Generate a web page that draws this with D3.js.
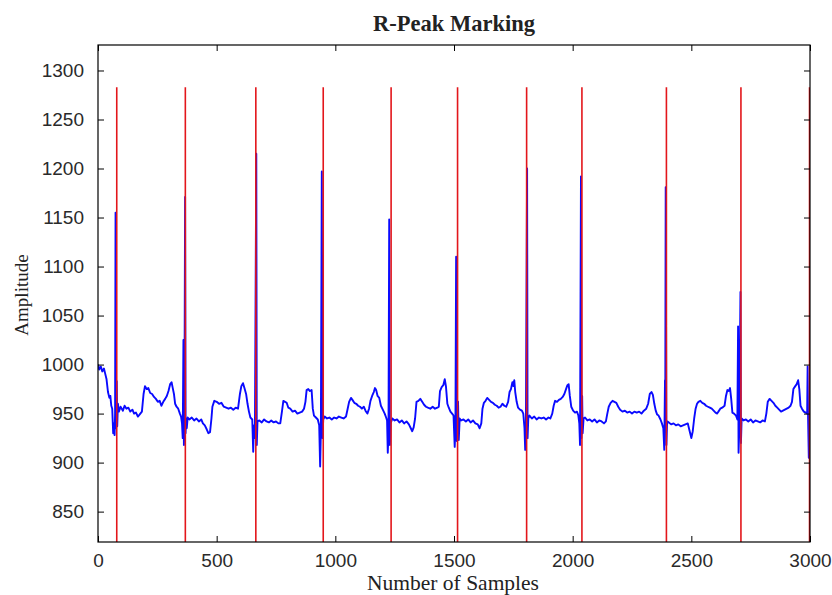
<!DOCTYPE html>
<html>
<head>
<meta charset="utf-8">
<script src="https://cdn.jsdelivr.net/npm/d3@7"></script>
<style>
  body { margin: 0; background: #fff; }
  .tick text { font-family: "Liberation Sans", Arial, sans-serif; font-size: 19px; fill: #2a2a2a; }
  .tick line { stroke: #000; }
</style>
</head>
<body>
<div id="chart"></div>
<script>
// tick labels
var xTicks = [0, 500, 1000, 1500, 2000, 2500, 3000];
var yTicks = [850, 900, 950, 1000, 1050, 1100, 1150, 1200, 1250, 1300];

// detected R-peak positions (red markers) and marker height
var peakIdx = [79, 368, 665, 949, 1235, 1515, 1806, 2039, 2395, 2709, 2998];
var markerTop = 1283;

// ECG trace: [sample, amplitude]
var ecgPoints = [
  [0,1000],[5,995],[12,998],[18,993],[25,996],[30,991],[36,985],[42,972],[48,966],[52,968],
  [56,958],[60,955],[64,930],[67,940],[70,928],[72,950],[74,1155],[76,935],[79,983],[81,937],
  [84,960],[88,952],[95,957],[105,953],[112,958],[120,955],[128,956],[136,952],[145,954],[152,950],
  [160,951],[168,947],[175,949],[185,952],[192,970],[198,978],[205,975],[212,976],[220,971],[228,970],
  [236,967],[244,965],[252,962],[260,963],[267,958],[275,962],[283,965],[290,968],[297,973],[304,980],
  [310,982],[315,976],[320,970],[325,960],[331,957],[338,955],[345,950],[350,947],[354,940],[357,925],
  [360,1025],[362,918],[364,940],[367,1171],[369,930],[371,945],[374,935],
  [378,946],[385,944],[395,946],[405,943],[415,945],[425,942],[435,944],[442,940],[450,938],[458,934],
  [465,930],[472,931],[478,945],[482,957],[490,963],[500,962],[510,960],[520,961],[530,957],[540,956],
  [550,955],[560,956],[570,954],[580,956],[590,955],[598,970],[604,978],[611,981],[617,976],[624,970],
  [630,960],[636,952],[642,946],[650,944],[654,911],[657,938],[661,925],[667,1215],[669,918],[672,942],
  [680,943],[690,941],[700,944],[710,942],[720,941],[730,943],[740,941],[750,942],[760,940],[768,940],
  [775,952],[781,963],[788,962],[795,961],[802,956],[810,955],[820,952],[830,953],[840,950],[850,951],
  [860,952],[868,955],[874,962],[879,974],[886,975],[893,973],[900,974],[905,955],[910,948],[918,946],
  [926,944],[932,938],[936,896],[939,930],[943,1197],[946,925],[949,944],
  [955,947],[965,945],[975,946],[985,944],[995,946],[1005,945],[1015,947],[1025,946],[1035,945],[1045,947],
  [1052,955],[1058,962],[1066,966],[1072,964],[1080,961],[1088,960],[1096,958],[1104,957],[1112,955],[1120,957],
  [1127,953],[1135,950],[1142,955],[1148,963],[1155,968],[1162,972],[1167,976],[1172,974],[1178,968],[1185,966],
  [1192,958],[1200,954],[1208,950],[1214,946],[1218,943],[1221,910],[1224,932],[1227,1148],[1230,918],[1233,940],
  [1240,945],[1250,943],[1260,944],[1270,941],[1280,943],[1290,940],[1300,942],[1310,939],[1318,935],[1324,932],
  [1330,936],[1336,945],[1342,962],[1350,963],[1358,965],[1366,962],[1374,959],[1382,957],[1390,956],[1400,955],
  [1410,957],[1420,955],[1430,956],[1436,957],[1441,973],[1448,977],[1455,979],[1461,985],[1466,978],[1472,960],
  [1478,956],[1485,952],[1492,950],[1498,948],[1503,916],[1506,935],[1509,1110],[1512,922],[1517,962],[1520,923],
  [1524,945],[1530,943],[1540,944],[1550,942],[1560,944],[1570,941],[1580,943],[1590,940],[1600,939],[1608,935],
  [1615,940],[1620,955],[1626,961],[1633,963],[1640,966],[1648,964],[1656,962],[1664,961],[1672,959],[1680,958],
  [1688,956],[1696,957],[1704,960],[1712,958],[1720,957],[1728,962],[1734,972],[1740,975],[1746,982],[1750,978],
  [1754,984],[1758,972],[1764,962],[1770,956],[1778,954],[1786,953],[1792,950],[1797,935],[1800,913],[1803,940],
  [1808,1200],[1810,925],[1813,945],[1818,948],[1828,945],[1838,947],[1848,944],[1858,946],[1868,945],[1878,946],
  [1888,944],[1898,946],[1906,945],[1914,950],[1920,958],[1926,963],[1934,962],[1942,964],[1950,965],[1958,967],
  [1965,970],[1972,975],[1978,979],[1983,980],[1988,968],[1994,957],[2002,953],[2010,951],[2018,952],[2024,948],
  [2028,940],[2031,918],[2035,1192],[2037,925],[2040,968],[2042,930],[2046,945],
  [2052,946],[2062,943],[2072,944],[2082,942],[2092,944],[2102,941],[2112,943],[2122,942],[2132,940],[2140,942],
  [2146,950],[2152,957],[2160,961],[2168,963],[2176,962],[2184,961],[2192,957],[2200,954],[2210,952],[2220,953],
  [2230,951],[2240,952],[2250,950],[2260,952],[2270,951],[2280,952],[2290,950],[2300,953],[2310,955],[2318,960],
  [2325,970],[2332,972],[2338,969],[2344,960],[2350,953],[2356,949],[2362,948],[2370,944],[2376,940],[2382,935],
  [2386,913],[2389,984],[2390,940],[2392,1181],[2395,918],[2398,942],
  [2405,941],[2415,939],[2425,940],[2435,938],[2445,939],[2455,937],[2465,938],[2475,939],[2485,940],[2492,933],
  [2500,925],[2506,932],[2512,945],[2518,955],[2524,960],[2530,962],[2538,963],[2546,961],[2554,960],[2562,958],
  [2570,957],[2578,956],[2586,955],[2594,953],[2602,951],[2608,950],[2614,952],[2622,955],[2630,956],[2640,958],
  [2646,968],[2652,974],[2658,973],[2663,976],[2668,965],[2673,951],[2680,950],[2688,948],[2694,944],[2697,1039],
  [2699,910],[2702,935],[2707,1074],[2709,920],[2712,945],
  [2720,943],[2730,944],[2740,942],[2750,944],[2760,941],[2770,943],[2780,942],[2790,941],[2800,943],[2810,942],
  [2816,950],[2822,962],[2830,965],[2838,963],[2846,961],[2854,958],[2862,956],[2870,954],[2878,952],[2886,953],
  [2894,954],[2902,955],[2910,956],[2918,958],[2924,962],[2930,975],[2938,978],[2944,980],[2950,984],[2955,975],
  [2960,958],[2966,955],[2974,952],[2982,951],[2988,950],[2990,998],[2992,945],[2995,905],[2998,915]
];

var W = 832, H = 595;
var mLeft = 98, mRight = 810, mTop = 45, mBottom = 542;

var svg = d3.select('#chart').append('svg').attr('width', W).attr('height', H);
svg.append('rect').attr('width', W).attr('height', H).attr('fill', '#fff');

var x = d3.scaleLinear().domain([0, 3000]).range([mLeft, mRight]);
var y = d3.scaleLinear().domain([819, 1326]).range([mBottom, mTop]);

// clip to the axes box
svg.append('clipPath').attr('id', 'clip')
  .append('rect').attr('x', mLeft).attr('y', mTop).attr('width', mRight - mLeft).attr('height', mBottom - mTop);
var plot = svg.append('g').attr('clip-path', 'url(#clip)');

// ecg signal
var line = d3.line().x(function(d) { return x(d[0]); }).y(function(d) { return y(d[1]); });
plot.append('path').datum(ecgPoints)
  .attr('d', line).attr('fill', 'none')
  .attr('stroke', '#0a0aff').attr('stroke-width', 1.9).attr('stroke-linejoin', 'round');

// r-peak markers
plot.selectAll('line.marker').data(peakIdx).enter().append('line')
  .attr('class', 'marker')
  .attr('x1', function(d) { return x(d); }).attr('x2', function(d) { return x(d); })
  .attr('y1', y(819)).attr('y2', y(markerTop))
  .attr('stroke', '#e3161b').attr('stroke-width', 1.6);

// axes, ticks pointing inward on all four sides
var tick = 6;
var fmt = d3.format('d');
svg.append('g').attr('transform', 'translate(0,' + mBottom + ')')
  .call(d3.axisBottom(x).tickValues(xTicks).tickFormat(fmt).tickSizeInner(-tick).tickSizeOuter(0).tickPadding(12))
  .call(function(g) { g.select('.domain').remove(); });
svg.append('g').attr('transform', 'translate(0,' + mTop + ')')
  .call(d3.axisTop(x).tickValues(xTicks).tickSizeInner(-tick).tickSizeOuter(0).tickFormat(''))
  .call(function(g) { g.select('.domain').remove(); });
svg.append('g').attr('transform', 'translate(' + mLeft + ',0)')
  .call(d3.axisLeft(y).tickValues(yTicks).tickFormat(fmt).tickSizeInner(-tick).tickSizeOuter(0).tickPadding(14))
  .call(function(g) { g.select('.domain').remove(); });
svg.append('g').attr('transform', 'translate(' + mRight + ',0)')
  .call(d3.axisRight(y).tickValues(yTicks).tickSizeInner(-tick).tickSizeOuter(0).tickFormat(''))
  .call(function(g) { g.select('.domain').remove(); });

svg.append('rect').attr('x', mLeft).attr('y', mTop)
  .attr('width', mRight - mLeft).attr('height', mBottom - mTop)
  .attr('fill', 'none').attr('stroke', '#000').attr('stroke-width', 1.2);

// labels
svg.append('text').attr('x', (mLeft + mRight) / 2).attr('y', 31)
  .attr('text-anchor', 'middle')
  .style('font-family', '"Liberation Serif", "Times New Roman", serif')
  .style('font-weight', 'bold').style('font-size', '22.5px').style('fill', '#222')
  .text('R-Peak Marking');

svg.append('text').attr('x', 453).attr('y', 590)
  .attr('text-anchor', 'middle')
  .style('font-family', '"Liberation Serif", "Times New Roman", serif')
  .style('font-size', '21.5px').style('fill', '#222')
  .text('Number of Samples');

svg.append('text').attr('transform', 'translate(28,295) rotate(-90)')
  .attr('text-anchor', 'middle')
  .style('font-family', '"Liberation Serif", "Times New Roman", serif')
  .style('font-size', '19px').style('fill', '#222')
  .text('Amplitude');
</script>
</body>
</html>
